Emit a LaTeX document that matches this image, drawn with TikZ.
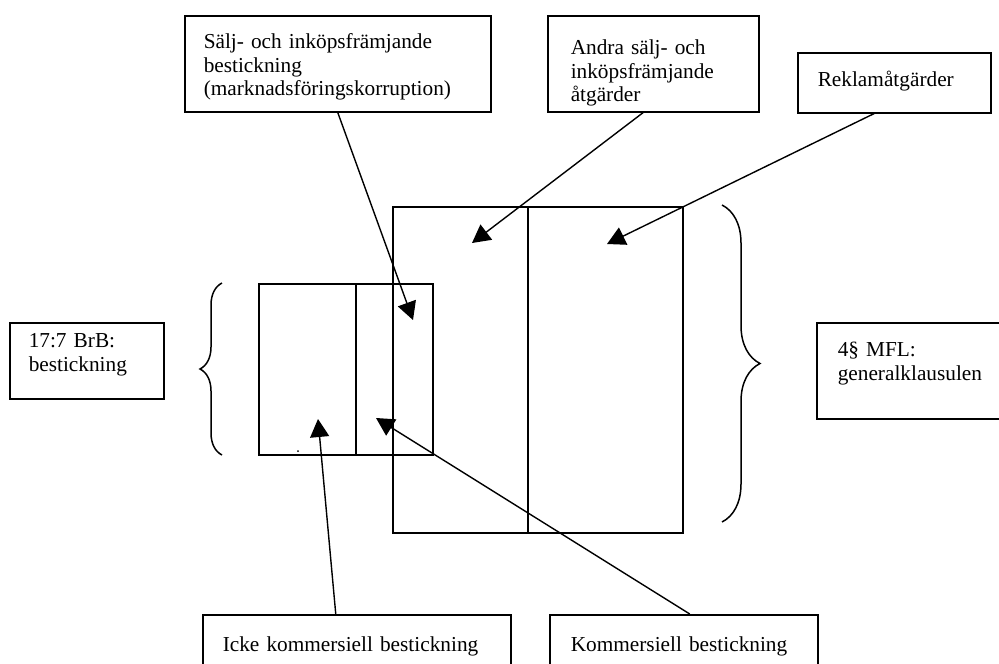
\documentclass[tikz,border=0pt]{standalone}
\usepackage{fontspec}
\setmainfont{Liberation Serif}
\usepackage{tikz}
\usetikzlibrary{positioning}
\usetikzlibrary{arrows.meta}
\usetikzlibrary{decorations.pathreplacing}
\tikzset {
  % text boxes
  box/.style = {draw, line width=1.5pt, rectangle, anchor=north west, align=left,
    inner ysep=2pt, text height=16pt, font=\fontsize{21.3}{23.5}\selectfont},
  % arrows from the boxes into the areas
  pointer/.style = {line width=1.4pt, -{Triangle[length=18pt,width=19pt]}},
  area/.style = {line width=1.5pt},
  curly/.style = {line width=1.5pt, decorate},
}

\begin{document}
\begin{tikzpicture}[x=1pt, y=-1pt]
      \useasboundingbox (0,0) rectangle (999,664);

      \node[box, minimum width=306, minimum height=96, inner xsep=19pt, text width=268pt, text depth=46pt] (salj) at (184,15)
        {Sälj- och inköpsfrämjande\\bestickning\\(marknadsföringskorruption)};
      \node[box, minimum width=211, minimum height=96, inner xsep=23pt, text width=165pt, text depth=34pt] (andra) at (547,15)
        {Andra sälj- och\\inköpsfrämjande\\åtgärder};
      \node[box, minimum width=193, minimum height=60, inner xsep=20pt, text width=153pt, text depth=8pt] (reklam) at (797,52)
        {Reklamåtgärder};
      \node[box, minimum width=154, minimum height=76, inner xsep=19pt, text width=116pt, text depth=42pt] (brb) at (9,322)
        {17:7 BrB:\\bestickning};
      \node[box, minimum width=194, minimum height=96, inner xsep=21pt, text width=152pt, text depth=44pt] (mfl) at (816,322)
        {4§ MFL:\\generalklausulen};
      \node[box, minimum width=308, minimum height=100, inner xsep=20pt, text width=268pt, text depth=42pt] (icke) at (202,614)
        {Icke kommersiell bestickning};
      \node[box, minimum width=268, minimum height=100, inner xsep=21pt, text width=226pt, text depth=42pt] (komm) at (549,614)
        {Kommersiell bestickning};

      % the two areas
      \draw[area] (259,284) rectangle (433,455);
      \draw[area] (356,284) -- (356,455);
      \draw[area] (393,207) rectangle (683,533);
      \draw[area] (528,207) -- (528,533);
      \fill (298,451) circle (1pt);

      % braces
      \draw[curly, decoration={brace, amplitude=22pt}] (222,455) -- (222,283);
      \draw[curly, decoration={brace, amplitude=38pt}] (722,205) -- (722,522);

      \coordinate (t1) at (413,320);
      \coordinate (t2) at (472,243);
      \coordinate (t3) at (607,244);
      \coordinate (t4) at (318,419);
      \coordinate (t5) at (376,418);

      \draw[pointer] (salj.south) -- (t1);
      \draw[pointer] ([xshift=-10pt]andra.south) -- (t2);
      \draw[pointer] ([xshift=-20pt]reklam.south) -- (t3);
      \draw[pointer] ([xshift=-21pt]icke.north) -- (t4);
      \draw[pointer] ([xshift=6pt]komm.north) -- (t5);
\end{tikzpicture}
\end{document}
